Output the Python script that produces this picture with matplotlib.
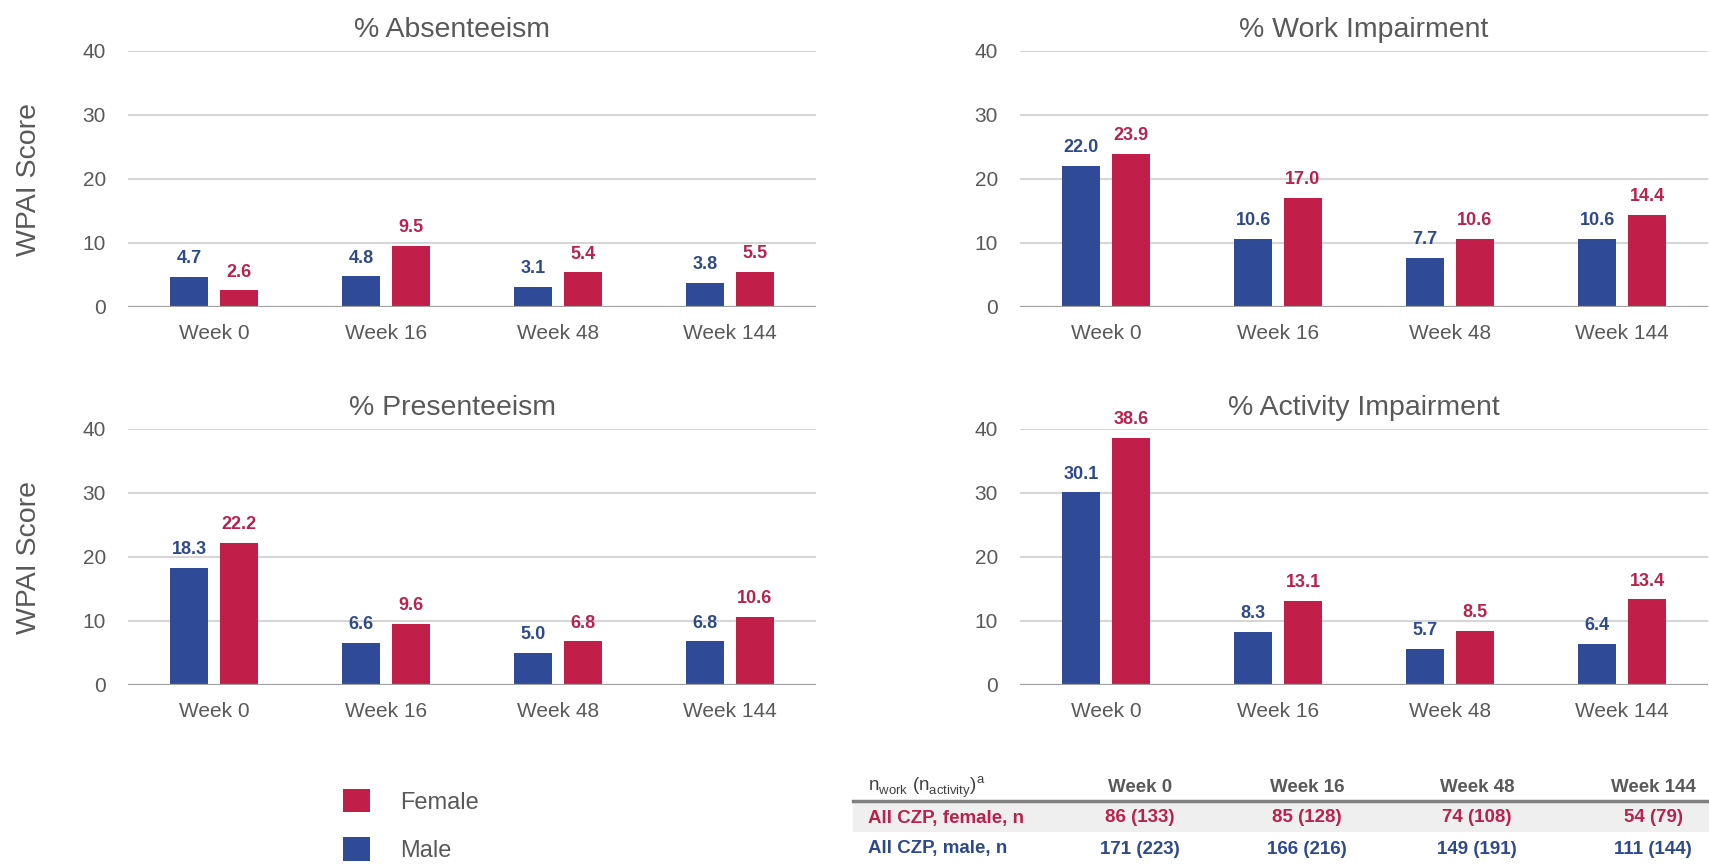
import matplotlib
matplotlib.use("Agg")
import matplotlib.pyplot as plt
import numpy as np
from matplotlib import font_manager
from matplotlib.patches import Patch, Rectangle
from matplotlib.lines import Line2D

# data
weeks = ["Week 0", "Week 16", "Week 48", "Week 144"]
absent_male = [4.7, 4.8, 3.1, 3.8]
absent_female = [2.6, 9.5, 5.4, 5.5]
present_male = [18.3, 6.6, 5.0, 6.8]
present_female = [22.2, 9.6, 6.8, 10.6]
work_male = [22.0, 10.6, 7.7, 10.6]
work_female = [23.9, 17.0, 10.6, 14.4]
activity_male = [30.1, 8.3, 5.7, 6.4]
activity_female = [38.6, 13.1, 8.5, 13.4]

table_header = "n$_{\\mathregular{work}}$ (n$_{\\mathregular{activity}}$)$^{\\mathregular{a}}$"
table_rows = ["All CZP, female, n", "All CZP, male, n"]
n_female = ["86 (133)", "85 (128)", "74 (108)", "54 (79)"]
n_male = ["171 (223)", "166 (216)", "149 (191)", "111 (144)"]

BLUE = "#2F4A97"
RED = "#C21E4A"
BLUE_TXT = "#2F4A8A"
RED_TXT = "#B7234C"
GRAY = "#595959"

names = {f.name for f in font_manager.fontManager.ttflist}
narrow = "Liberation Sans Narrow" if "Liberation Sans Narrow" in names else "Liberation Sans"

plt.rcParams["font.family"] = ["Liberation Sans", "DejaVu Sans"]
plt.rcParams["mathtext.fontset"] = "custom"
plt.rcParams["mathtext.rm"] = narrow

W, H = 1709, 867
fig = plt.figure(figsize=(W / 100, H / 100), dpi=100)


def fx(px):
    return px / W


def fy(py):
    return 1 - py / H


# title, male, female, left px, bottom px, left column?
panels = [
    ("% Absenteeism", absent_male, absent_female, 128, 307, True),
    ("% Work Impairment", work_male, work_female, 1020, 307, False),
    ("% Presenteeism", present_male, present_female, 128, 685, True),
    ("% Activity Impairment", activity_male, activity_female, 1020, 685, False),
]

x = np.arange(len(weeks))
bw = 0.22
off = 0.145
for title, male, female, left, bottom, ylab in panels:
    ax = fig.add_axes([fx(left), fy(bottom), 688 / W, 256 / H])
    ax.set_xlim(-0.5, 3.5)
    ax.set_ylim(0, 40)
    ax.set_yticks([0, 10, 20, 30, 40])
    for v in [10, 20, 30, 40]:
        ax.axhline(v, color="#D6D6D6", lw=1.5, zorder=0)
    ax.axhline(0, color="#A0A0A0", lw=1.6, zorder=3)
    b1 = ax.bar(x - off, male, bw, color=BLUE, zorder=2)
    b2 = ax.bar(x + off, female, bw, color=RED, zorder=2)
    ax.bar_label(b1, fmt="%.1f", padding=7, fontsize=13, fontweight="bold", color=BLUE_TXT)
    ax.bar_label(b2, fmt="%.1f", padding=7, fontsize=13, fontweight="bold", color=RED_TXT)
    for s in ax.spines.values():
        s.set_visible(False)
    ax.set_xticks(x)
    ax.set_xticklabels(weeks)
    ax.tick_params(length=0, labelsize=15, labelcolor=GRAY)
    ax.tick_params(axis="x", pad=12)
    ax.tick_params(axis="y", pad=16)
    ax.set_title(title, fontsize=20.5, color=GRAY, pad=10, x=0.471 if ylab else 0.5)
    if ylab:
        ax.set_ylabel("WPAI Score", fontsize=20.5, color=GRAY)
        ax.yaxis.set_label_coords(-0.125, 0.5)

# legend
handles = [Patch(facecolor=RED, edgecolor="none"), Patch(facecolor=BLUE, edgecolor="none")]
fig.legend(handles, ["Female", "Male"], loc="upper left",
           bbox_to_anchor=(fx(343), fy(789)), frameon=False, fontsize=17,
           handlelength=1.15, handleheight=1.15, handletextpad=1.25,
           labelspacing=1.0, borderpad=0, borderaxespad=0, labelcolor=GRAY)

# n table
cols = [1140, 1307, 1477, 1653]
fig.patches.append(Rectangle((fx(853), fy(832)), 1 - fx(853), (832 - 803) / H,
                             transform=fig.transFigure, facecolor="#EFEFEF",
                             edgecolor="none", zorder=0))
fig.add_artist(Line2D([fx(853), 1], [fy(801), fy(801)], color="#808080", lw=2.5))
fig.text(fx(868), fy(787), table_header, fontsize=13.5, color="#404040",
         family=narrow, va="center", ha="left")
for cx, wk in zip(cols, weeks):
    fig.text(fx(cx), fy(787), wk, fontsize=13.5, color=GRAY, family=narrow,
             fontweight="bold", ha="center", va="center")
fig.text(fx(868), fy(818), table_rows[0], fontsize=13.5, color=RED_TXT, family=narrow,
         fontweight="bold", ha="left", va="center")
fig.text(fx(868), fy(849), table_rows[1], fontsize=13.5, color=BLUE_TXT, family=narrow,
         fontweight="bold", ha="left", va="center")
for cx, nf, nm in zip(cols, n_female, n_male):
    fig.text(fx(cx), fy(818), nf, fontsize=13.5, color=RED_TXT, family=narrow,
             fontweight="bold", ha="center", va="center")
    fig.text(fx(cx), fy(849), nm, fontsize=13.5, color=BLUE_TXT, family=narrow,
             fontweight="bold", ha="center", va="center")

fig.savefig("out.png", dpi=100)
